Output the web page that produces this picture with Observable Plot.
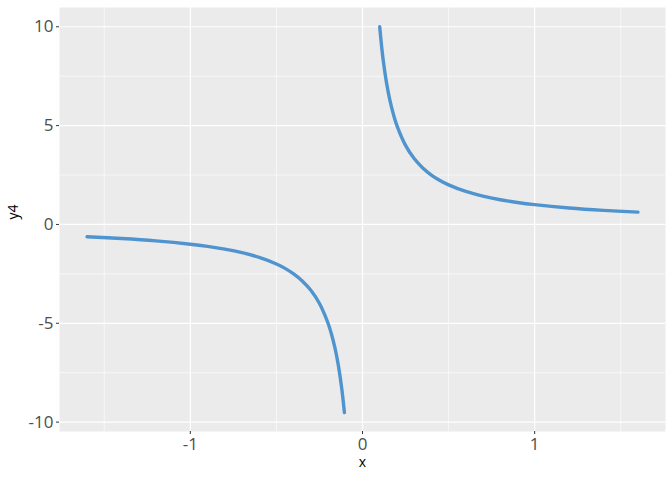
<!DOCTYPE html>
<html>
<head>
<meta charset="utf-8">
<script src="https://cdn.jsdelivr.net/npm/d3@7"></script>
<script src="https://cdn.jsdelivr.net/npm/@observablehq/plot@0.6"></script>
<style>
  html, body { margin: 0; padding: 0; background: #ffffff; }
</style>
</head>
<body>
<div id="chart"></div>
<script>
// Values (left branch and right branch)
const xLeft  = [-1.6, -1.4, -1.2, -1.0, -0.9, -0.8, -0.7, -0.6, -0.5, -0.45, -0.4, -0.35, -0.3, -0.25, -0.2, -0.18, -0.16, -0.14, -0.12, -0.105];
const yLeft  = [-0.625, -0.714, -0.833, -1.0, -1.111, -1.25, -1.429, -1.667, -2.0, -2.222, -2.5, -2.857, -3.333, -4.0, -5.0, -5.556, -6.25, -7.143, -8.333, -9.52];
const xRight = [0.1, 0.11, 0.12, 0.14, 0.16, 0.18, 0.2, 0.25, 0.3, 0.35, 0.4, 0.45, 0.5, 0.6, 0.7, 0.8, 0.9, 1.0, 1.2, 1.4, 1.6];
const yRight = [10.0, 9.091, 8.333, 7.143, 6.25, 5.556, 5.0, 4.0, 3.333, 2.857, 2.5, 2.222, 2.0, 1.667, 1.429, 1.25, 1.111, 1.0, 0.833, 0.714, 0.625];

const xTicks = [-1, 0, 1];
const yTicks = [-10, -5, 0, 5, 10];
const xMinor = [-1.5, -0.5, 0.5, 1.5];
const yMinor = [-7.5, -2.5, 2.5, 7.5];

const data = [
  ...xLeft.map((x, i) => ({x, y: yLeft[i], branch: "left"})),
  ...xRight.map((x, i) => ({x, y: yRight[i], branch: "right"}))
];

const tickColor = "#4D4D4D";
const fmt = d => String(d);
const chart = Plot.plot({
  width: 672,
  height: 480,
  marginLeft: 59,
  marginRight: 7,
  marginTop: 7,
  marginBottom: 49,
  style: {background: "#ffffff", fontFamily: "'Open Sans', 'Noto Sans', sans-serif", overflow: "visible"},
  x: {domain: [-1.76, 1.76]},
  y: {domain: [-10.475, 10.975]},
  marks: [
    Plot.frame({fill: "#EBEBEB", stroke: null}),
    Plot.gridX(xMinor, {stroke: "#ffffff", strokeOpacity: 1, strokeWidth: 0.6}),
    Plot.gridY(yMinor, {stroke: "#ffffff", strokeOpacity: 1, strokeWidth: 0.6}),
    Plot.gridX(xTicks, {stroke: "#ffffff", strokeOpacity: 1, strokeWidth: 1.2}),
    Plot.gridY(yTicks, {stroke: "#ffffff", strokeOpacity: 1, strokeWidth: 1.2}),
    Plot.axisX(xTicks, {tickSize: 3, tickPadding: 3, tickFormat: fmt, fontSize: 17, color: tickColor, stroke: "#333333", label: null}),
    Plot.axisY(yTicks, {tickSize: 3, tickPadding: 3, tickFormat: fmt, fontSize: 17, color: tickColor, stroke: "#333333", label: null}),
    Plot.text(["x"], {frameAnchor: "bottom", dy: 35, fontSize: 14, fill: "#000000"}),
    Plot.text(["y4"], {frameAnchor: "left", dx: -46, rotate: -90, fontSize: 14, fill: "#000000"}),
    Plot.line(data, {x: "x", y: "y", z: "branch", stroke: "#4F94CF", strokeWidth: 3.4, curve: "catmull-rom"})
  ]
});
document.getElementById("chart").appendChild(chart);
</script>
</body>
</html>
